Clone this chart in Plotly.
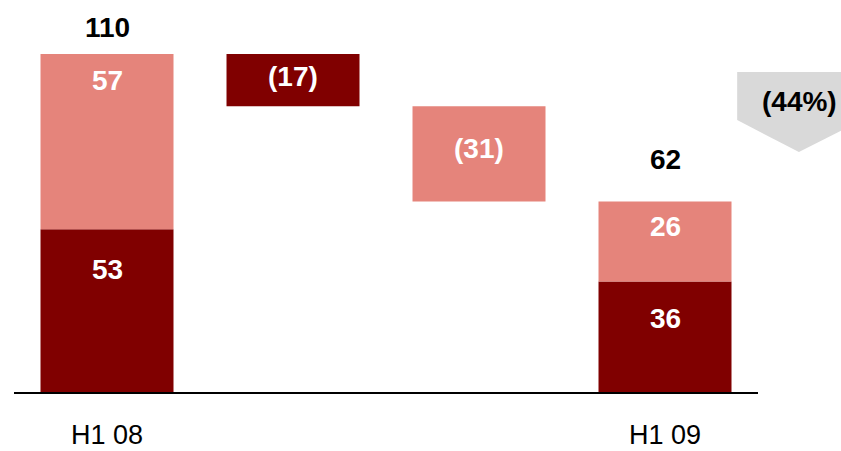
import plotly.graph_objects as go

# Waterfall: H1 08 total -> two declines -> H1 09 total
categories = ["H1 08", "", "", "H1 09"]
dark_start = 53      # H1 08, dark segment
light_start = 57     # H1 08, light segment
dark_drop = 17
light_drop = 31
dark_end = 36        # H1 09, dark segment
light_end = 26       # H1 09, light segment

DARK = "#800000"
LIGHT = "#E5847B"
FONT = "Liberation Sans"

total_start = dark_start + light_start
total_end = dark_end + light_end
after_first = total_start - dark_drop
change_pct = round((total_end - total_start) / total_start * 100)

xs = list(range(len(categories)))
W = 0.715

segments = [
    # x, base, height, colour, label, label offset below segment top (px)
    (xs[0], 0, dark_start, DARK, str(dark_start), 40),
    (xs[0], dark_start, light_start, LIGHT, str(light_start), 26),
    (xs[1], after_first, dark_drop, DARK, f"({dark_drop})", 22),
    (xs[2], total_end, light_drop, LIGHT, f"({light_drop})", 42),
    (xs[3], 0, dark_end, DARK, str(dark_end), 37),
    (xs[3], dark_end, light_end, LIGHT, str(light_end), 25),
]

fig = go.Figure()
for x, base, h, col, lab, off in segments:
    fig.add_trace(go.Bar(
        x=[x], y=[h], base=[base], width=W,
        marker=dict(color=col, line=dict(width=0)),
        hoverinfo="skip",
    ))
    fig.add_annotation(x=x, y=base + h, text=f"<b>{lab}</b>", showarrow=False,
                       yanchor="middle", yshift=-off,
                       font=dict(size=28, family=FONT, color="white"))

# totals above the stacked columns
for xv, tot, shift in [(xs[0], total_start, 27), (xs[3], total_end, 42)]:
    fig.add_annotation(x=xv, y=tot, text=f"<b>{tot}</b>", showarrow=False,
                       yanchor="middle", yshift=shift,
                       font=dict(size=28, family=FONT, color="black"))

# change callout: grey down-arrow
fig.add_shape(type="path", xref="paper", yref="paper",
              path="M 0.972 0.860 L 1.140 0.860 L 1.140 0.731 L 1.055 0.645 L 0.972 0.731 Z",
              fillcolor="#D9D9D9", line=dict(width=0), layer="below")
fig.add_annotation(xref="paper", yref="paper", x=1.056, y=0.780,
                   xanchor="center", yanchor="middle",
                   text=f"<b>({abs(change_pct)}%)</b>", showarrow=False,
                   font=dict(size=28, family=FONT, color="black"))

fig.update_layout(
    width=841, height=451,
    margin=dict(l=14, r=83, t=20, b=59),
    paper_bgcolor="white", plot_bgcolor="white",
    showlegend=False, barmode="overlay",
    xaxis=dict(range=[-0.5, 3.5], tickvals=[xs[0], xs[3]],
               ticktext=[categories[0], categories[3]],
               showline=True, linecolor="black", linewidth=2,
               showgrid=False, zeroline=False, ticks="",
               automargin=False, ticklabelstandoff=18,
               tickfont=dict(size=27, family=FONT, color="black")),
    yaxis=dict(range=[0, 372 / (338 / 110)], visible=False,
               showgrid=False, zeroline=False, automargin=False),
)

fig.write_html("out.html")
